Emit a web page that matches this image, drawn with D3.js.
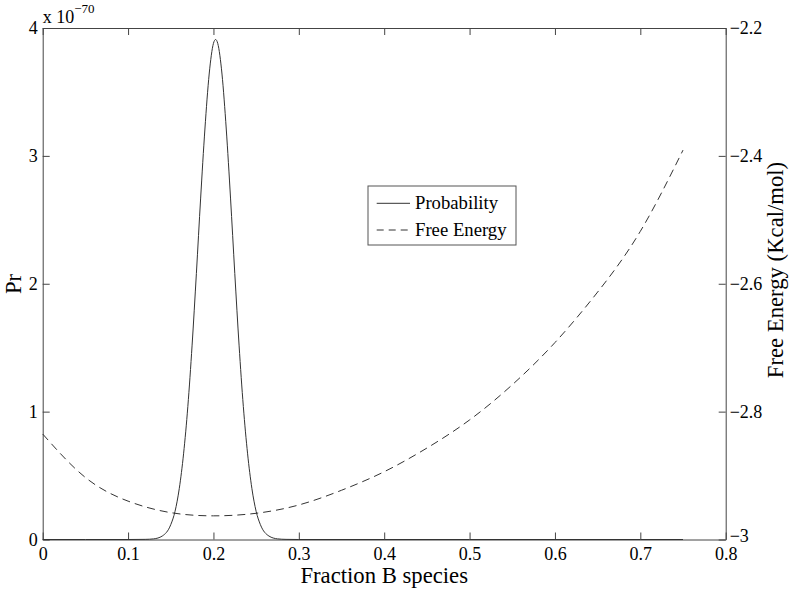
<!DOCTYPE html>
<html>
<head>
<meta charset="utf-8">
<script src="https://cdnjs.cloudflare.com/ajax/libs/d3/7.8.5/d3.min.js"></script>
<style>
  body { margin: 0; background: #fff; }
  svg, svg text { font-family: "Liberation Serif", "Times New Roman", serif; }
  .axis text { font-size: 18px; fill: #000; font-family: "Liberation Serif", serif; }
  .axis path, .axis line { stroke: #444; }
</style>
</head>
<body>
<svg id="chart" width="793" height="590"></svg>
<script>
// Free energy (dashed)
const feFraction = [0, 0.05, 0.10, 0.15, 0.20, 0.25, 0.30, 0.35, 0.40, 0.45, 0.50, 0.55, 0.60, 0.65, 0.70, 0.75];
const feValues = [-2.835, -2.903, -2.940, -2.958, -2.963, -2.959, -2.946, -2.923, -2.894, -2.857, -2.813, -2.758, -2.692, -2.613, -2.518, -2.391];

// Probability peak (solid), in units of 1e-70
const prFraction = [0, 0.05, 0.10, 0.12, 0.13, 0.14, 0.15, 0.155, 0.16, 0.165, 0.17, 0.175, 0.18, 0.185, 0.19, 0.195, 0.20, 0.2025,
  0.205, 0.21, 0.215, 0.22, 0.225, 0.23, 0.235, 0.24, 0.245, 0.25, 0.255, 0.265, 0.275, 0.285, 0.30, 0.40, 0.50, 0.60, 0.70, 0.75];
const prValues = [0, 0, 0, 0.001, 0.005, 0.027, 0.116, 0.22, 0.40, 0.67, 1.04, 1.52, 2.08, 2.67, 3.21, 3.64, 3.88, 3.91,
  3.88, 3.64, 3.21, 2.67, 2.08, 1.52, 1.04, 0.67, 0.40, 0.22, 0.116, 0.027, 0.005, 0.001, 0, 0, 0, 0, 0, 0];

const xTicks = [0, 0.1, 0.2, 0.3, 0.4, 0.5, 0.6, 0.7, 0.8];
const leftTicks = [0, 1, 2, 3, 4];
const rightTicks = [-3, -2.8, -2.6, -2.4, -2.2];
const legendLabels = ["Probability", "Free Energy"];

const svg = d3.select("#chart");
const plot = { left: 42.7, right: 725.7, top: 28, bottom: 539.5 };

const x = d3.scaleLinear().domain([0, 0.8]).range([plot.left, plot.right]);
const yL = d3.scaleLinear().domain([0, 4]).range([plot.bottom, plot.top]);
const yR = d3.scaleLinear().domain([-3, -2.2]).range([plot.bottom, plot.top]);

// axes, ticks pointing inside
svg.append("g").attr("class", "axis")
  .attr("transform", `translate(0,${plot.bottom})`)
  .call(d3.axisBottom(x).tickValues(xTicks).tickFormat(d3.format("~g"))
    .tickSizeInner(-7).tickSizeOuter(0).tickPadding(8));

svg.append("g").attr("class", "axis")
  .attr("transform", `translate(0,${plot.top})`)
  .call(d3.axisTop(x).tickValues(xTicks).tickFormat("")
    .tickSizeInner(-7).tickSizeOuter(0));

svg.append("g").attr("class", "axis")
  .attr("transform", `translate(${plot.left},0)`)
  .call(d3.axisLeft(yL).tickValues(leftTicks).tickFormat(d3.format("d"))
    .tickSizeInner(-7).tickSizeOuter(0).tickPadding(5));

const rightAxis = svg.append("g").attr("class", "axis")
  .attr("transform", `translate(${plot.right},0)`)
  .call(d3.axisRight(yR).tickValues(rightTicks).tickFormat(d3.format("~g"))
    .tickSizeInner(-7).tickSizeOuter(0).tickPadding(4));

// the bottom label sits a little higher, as in the original
rightAxis.selectAll(".tick text")
  .filter(d => d === -3)
  .attr("dy", "0.1em");

// exponent label
const expo = svg.append("text")
  .attr("x", plot.left)
  .attr("y", 23)
  .style("font-size", "18px");
expo.append("tspan").text("x 10");
expo.append("tspan").attr("dy", -10).style("font-size", "13px").text("\u221270");

// curves
const prLine = d3.line()
  .x((d, i) => x(prFraction[i]))
  .y(d => yL(d))
  .curve(d3.curveMonotoneX);

svg.append("path")
  .datum(prValues)
  .attr("fill", "none")
  .attr("stroke", "#333")
  .attr("stroke-width", 1)
  .attr("d", prLine);

const feLine = d3.line()
  .x((d, i) => x(feFraction[i]))
  .y(d => yR(d))
  .curve(d3.curveNatural);

svg.append("path")
  .datum(feValues)
  .attr("fill", "none")
  .attr("stroke", "#333")
  .attr("stroke-width", 1)
  .attr("stroke-dasharray", "8,5")
  .attr("d", feLine);

// axis titles
svg.append("text")
  .attr("x", (plot.left + plot.right) / 2)
  .attr("y", 583)
  .attr("text-anchor", "middle")
  .style("font-size", "22.7px")
  .text("Fraction B species");

svg.append("text")
  .attr("transform", "translate(21,284) rotate(-90)")
  .attr("text-anchor", "middle")
  .style("font-size", "22.7px")
  .text("Pr");

svg.append("text")
  .attr("transform", "translate(783,270) rotate(-90)")
  .attr("text-anchor", "middle")
  .style("font-size", "22.7px")
  .text("Free Energy (Kcal/mol)");

// legend
const legend = svg.append("g");
legend.append("rect")
  .attr("x", 368).attr("y", 186)
  .attr("width", 148).attr("height", 59)
  .attr("fill", "#fff")
  .attr("stroke", "#555");

legendLabels.forEach((label, i) => {
  const ly = 203.3 + i * 26.7;
  legend.append("line")
    .attr("x1", 376.7).attr("x2", 410)
    .attr("y1", ly).attr("y2", ly)
    .attr("stroke", "#333")
    .attr("stroke-dasharray", i === 1 ? "7,5" : null);
  legend.append("text")
    .attr("x", 415)
    .attr("y", ly + 6)
    .style("font-size", "18.7px")
    .text(label);
});
</script>
</body>
</html>
